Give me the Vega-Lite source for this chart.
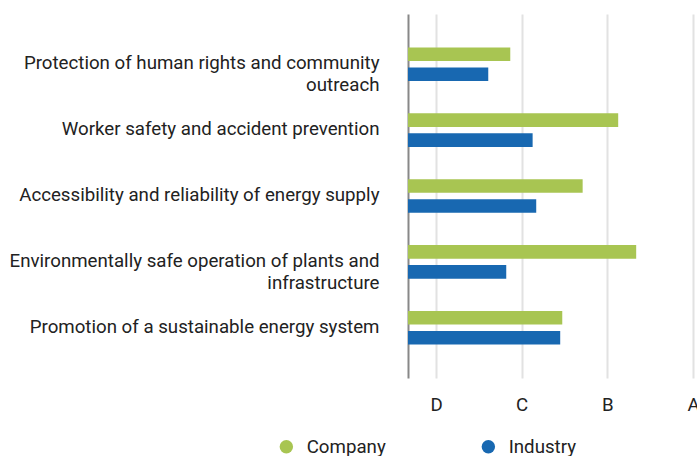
{
  "$schema": "https://vega.github.io/schema/vega-lite/v6.json",
  "width": 289,
  "height": 364,
  "autosize": "none",
  "padding": {"left": 408, "top": 14, "right": 0, "bottom": 78},
  "background": "white",
  "config": {
    "view": {"stroke": null},
    "font": "Roboto",
    "axis": {"labelFont": "Roboto", "labelColor": "#222222", "labelFontSize": 18.7}
  },
  "data": {
    "values": [
      {"topic": "Protection of human rights and community outreach", "group": "Company", "score": 1.867},
      {"topic": "Protection of human rights and community outreach", "group": "Industry", "score": 1.610},
      {"topic": "Worker safety and accident prevention", "group": "Company", "score": 3.127},
      {"topic": "Worker safety and accident prevention", "group": "Industry", "score": 2.128},
      {"topic": "Accessibility and reliability of energy supply", "group": "Company", "score": 2.712},
      {"topic": "Accessibility and reliability of energy supply", "group": "Industry", "score": 2.170},
      {"topic": "Environmentally safe operation of plants and infrastructure", "group": "Company", "score": 3.337},
      {"topic": "Environmentally safe operation of plants and infrastructure", "group": "Industry", "score": 1.820},
      {"topic": "Promotion of a sustainable energy system", "group": "Company", "score": 2.474},
      {"topic": "Promotion of a sustainable energy system", "group": "Industry", "score": 2.450}
    ]
  },
  "mark": {"type": "bar", "clip": true},
  "encoding": {
    "y": {
      "field": "topic",
      "type": "nominal",
      "sort": null,
      "scale": {"paddingInner": 0.488, "paddingOuter": 0.507},
      "axis": {
        "title": null,
        "ticks": false,
        "domainColor": "#888888",
        "domainWidth": 2,
        "labelPadding": 29,
        "labelOffset": -1,
        "labelLimit": 420,
        "labelLineHeight": 22,
        "labelExpr": "datum.label == 'Protection of human rights and community outreach' ? ['Protection of human rights and community', 'outreach'] : datum.label == 'Environmentally safe operation of plants and infrastructure' ? ['Environmentally safe operation of plants and', 'infrastructure'] : datum.label"
      }
    },
    "yOffset": {
      "field": "group",
      "type": "nominal",
      "scale": {"paddingInner": 0.315, "paddingOuter": 0}
    },
    "x": {
      "field": "score",
      "type": "quantitative",
      "stack": null,
      "scale": {"domain": [0.673, 4.047], "zero": false, "nice": false},
      "axis": {
        "title": null,
        "values": [1, 2, 3, 4],
        "domain": false,
        "ticks": false,
        "grid": true,
        "gridColor": "#e2e2e2",
        "gridWidth": 2,
        "labelPadding": 17,
        "labelExpr": "datum.value == 1 ? 'D' : datum.value == 2 ? 'C' : datum.value == 3 ? 'B' : 'A'"
      }
    },
    "color": {
      "field": "group",
      "type": "nominal",
      "scale": {"domain": ["Company", "Industry"], "range": ["#a8c552", "#1868b1"]},
      "legend": {
        "title": null,
        "orient": "none",
        "legendX": -131,
        "legendY": 423,
        "direction": "horizontal",
        "symbolType": "circle",
        "symbolSize": 180,
        "symbolStrokeWidth": 0,
        "labelFontSize": 18.7,
        "labelFont": "Roboto",
        "labelColor": "#222222",
        "labelOffset": 11,
        "columnPadding": 93
      }
    }
  }
}
